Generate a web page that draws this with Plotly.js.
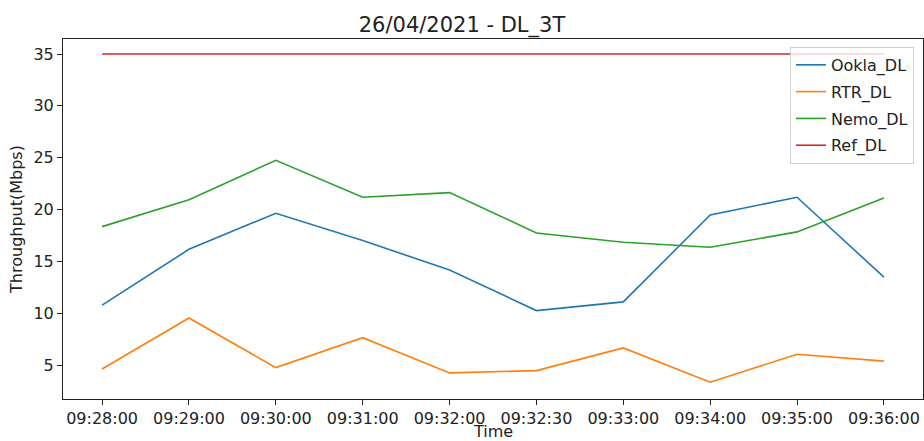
<!DOCTYPE html>
<html>
<head>
<meta charset="utf-8">
<script src="https://cdn.plot.ly/plotly-3.0.1.min.js"></script>
<style>html,body{margin:0;padding:0;background:#fff;}#chart{width:924px;height:441px;}</style>
</head>
<body>
<div id="chart"></div>
<script>
const times = ["09:28:00","09:29:00","09:30:00","09:31:00","09:32:00","09:32:30","09:33:00","09:34:00","09:35:00","09:36:00"];
const ooklaDL = [10.77, 16.16, 19.64, 17.0, 14.17, 10.25, 11.09, 19.47, 21.18, 13.47];
const rtrDL   = [4.62, 9.54, 4.75, 7.64, 4.24, 4.46, 6.65, 3.34, 6.04, 5.37];
const nemoDL  = [18.35, 20.95, 24.75, 21.18, 21.63, 17.74, 16.84, 16.36, 17.84, 21.11];
const refDL   = [35, 35, 35, 35, 35, 35, 35, 35, 35, 35];
const seriesNames = ["Ookla_DL", "RTR_DL", "Nemo_DL", "Ref_DL"];
const colors = ["#1f77b4", "#ff7f0e", "#2ca02c", "#d62728"];
const seriesData = [ooklaDL, rtrDL, nemoDL, refDL];

const font = "DejaVu Sans, sans-serif";
const traces = seriesData.map((ys, i) => ({
  x: times, y: ys, type: "scatter", mode: "lines", name: seriesNames[i],
  legendgroup: "g" + i,
  line: {color: colors[i], width: 1.6}
}));

const layout = {
  width: 924, height: 441,
  margin: {l: 62.5, r: 1, t: 39, b: 42},
  paper_bgcolor: "#fff", plot_bgcolor: "#fff",
  font: {family: font, color: "#222", size: 16},
  title: {text: "26/04/2021 - DL_3T", font: {family: font, size: 21, color: "#222"}, x: 0.5, xanchor: "center", y: 0.945, yanchor: "middle"},
  xaxis: {
    type: "category", range: [-0.45, 9.45],
    showgrid: false, zeroline: false, showline: true, mirror: true, linecolor: "#222", linewidth: 1,
    ticks: "outside", ticklen: 5, tickcolor: "#222", tickfont: {size: 16, family: font, color: "#222"}
  },
  yaxis: {
    range: [1.72, 36.45], tickvals: [5,10,15,20,25,30,35],
    showgrid: false, zeroline: false, showline: true, mirror: true, linecolor: "#222", linewidth: 1,
    ticks: "outside", ticklen: 5, tickcolor: "#222", tickfont: {size: 16, family: font, color: "#222"},
    title: {text: "Throughput(Mbps)", font: {size: 16, family: font, color: "#222"}, standoff: 6}
  },
  annotations: [{
    text: "Time", xref: "paper", yref: "paper", x: 0.5, y: -0.09,
    xanchor: "center", yanchor: "middle", showarrow: false, borderpad: 0,
    font: {size: 16, family: font, color: "#222"}
  }],
  legend: {
    x: 0.9895, xanchor: "right", y: 0.978, yanchor: "top",
    bgcolor: "rgba(255,255,255,0.8)", bordercolor: "#d0d0d0", borderwidth: 1,
    font: {size: 16, family: font, color: "#222"},
    tracegroupgap: 3
  },
  showlegend: true
};

Plotly.newPlot("chart", traces, layout, {displayModeBar: false, staticPlot: true});
</script>
</body>
</html>
